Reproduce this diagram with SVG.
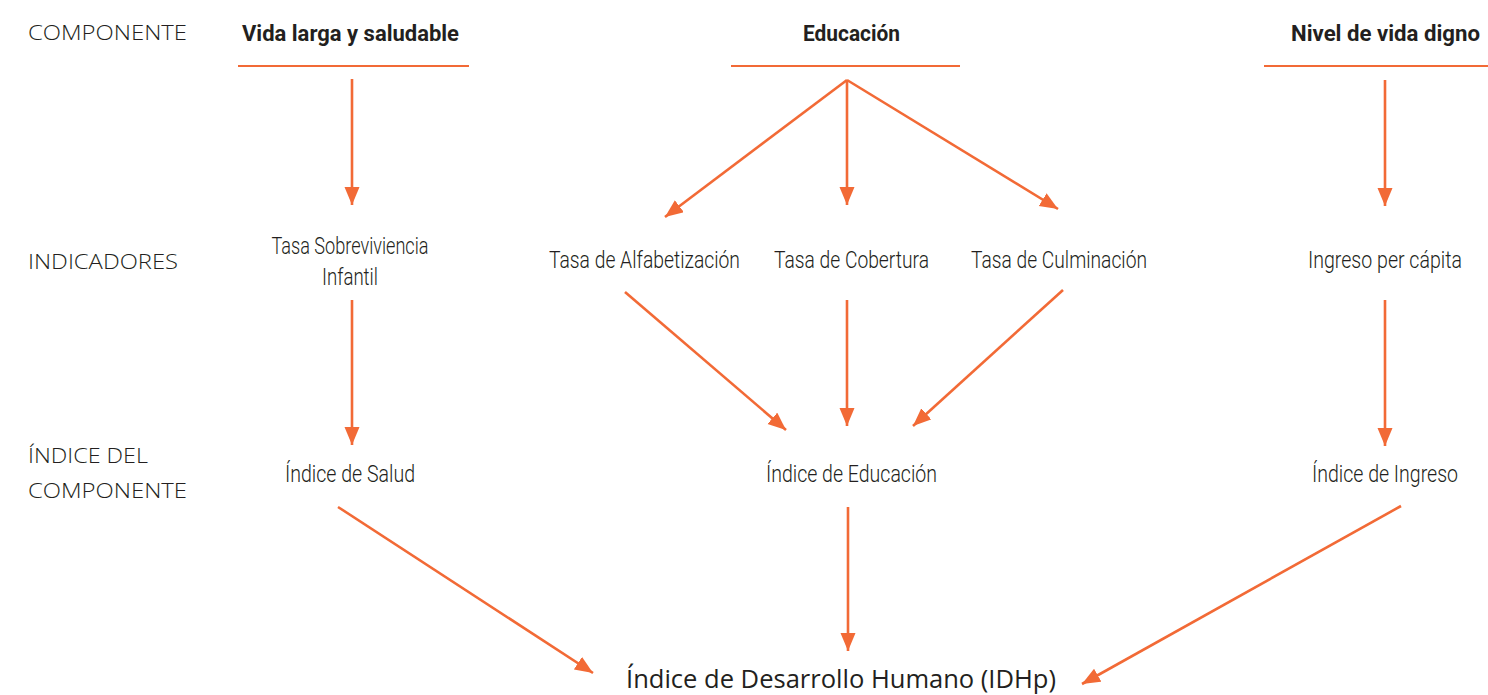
<svg xmlns="http://www.w3.org/2000/svg" width="1488" height="695" viewBox="0 0 1488 695">
<style>
.lbl{font-family:Roboto,"Liberation Sans",sans-serif;font-weight:300;font-size:23px;fill:#231f20;text-anchor:middle}
.bold{font-family:Roboto,"Liberation Sans",sans-serif;font-weight:700;font-size:22px;fill:#231f20;text-anchor:middle}
.side{font-family:"Open Sans","Liberation Sans",sans-serif;font-weight:300;font-size:21px;fill:#231f20}
.main{font-family:"Open Sans","Liberation Sans",sans-serif;font-weight:400;font-size:25px;fill:#231f20;text-anchor:middle}
.rule{stroke:#f26a36;stroke-width:2;fill:none}
.arr{stroke:#f26a36;stroke-width:2.6;fill:none;marker-end:url(#ah)}
</style>
<defs>
<marker id="ah" markerUnits="userSpaceOnUse" markerWidth="20" markerHeight="16" refX="18" refY="7.5" orient="auto">
<path d="M0,0 L18,7.5 L0,15 Z" fill="#f26a36"/>
</marker>
</defs>
<rect width="1488" height="695" fill="#fff"/>
<g id="row-labels">
<text class="side" x="28" y="40" textLength="159" lengthAdjust="spacingAndGlyphs">COMPONENTE</text>
<text class="side" x="28" y="269" textLength="150" lengthAdjust="spacingAndGlyphs">INDICADORES</text>
<text class="side" x="28" y="463" textLength="120" lengthAdjust="spacingAndGlyphs">ÍNDICE DEL</text>
<text class="side" x="28" y="498" textLength="159" lengthAdjust="spacingAndGlyphs">COMPONENTE</text>
</g>
<g id="comp-vida">
<text class="bold" x="350.5" y="41" textLength="217" lengthAdjust="spacingAndGlyphs">Vida larga y saludable</text>
<line class="rule" x1="238" y1="66" x2="469" y2="66"/>
</g>
<g id="comp-educacion">
<text class="bold" x="851.5" y="41" textLength="97" lengthAdjust="spacingAndGlyphs">Educación</text>
<line class="rule" x1="731" y1="66" x2="960" y2="66"/>
</g>
<g id="comp-nivel">
<text class="bold" x="1385.5" y="41" textLength="189" lengthAdjust="spacingAndGlyphs">Nivel de vida digno</text>
<line class="rule" x1="1264" y1="66" x2="1488" y2="66"/>
</g>
<g id="ind-sobrevivencia">
<text class="lbl" x="350" y="254" textLength="157" lengthAdjust="spacingAndGlyphs">Tasa Sobreviviencia</text>
<text class="lbl" x="350" y="285" textLength="56" lengthAdjust="spacingAndGlyphs">Infantil</text>
</g>
<g id="ind-alfabetizacion"><text class="lbl" x="644.5" y="268" textLength="191" lengthAdjust="spacingAndGlyphs">Tasa de Alfabetización</text></g>
<g id="ind-cobertura"><text class="lbl" x="851.5" y="268" textLength="155" lengthAdjust="spacingAndGlyphs">Tasa de Cobertura</text></g>
<g id="ind-culminacion"><text class="lbl" x="1059" y="268" textLength="176" lengthAdjust="spacingAndGlyphs">Tasa de Culminación</text></g>
<g id="ind-ingreso"><text class="lbl" x="1385" y="268" textLength="154" lengthAdjust="spacingAndGlyphs">Ingreso per cápita</text></g>
<g id="idx-salud"><text class="lbl" x="350" y="482" textLength="130" lengthAdjust="spacingAndGlyphs">Índice de Salud</text></g>
<g id="idx-educacion"><text class="lbl" x="851.5" y="482" textLength="171" lengthAdjust="spacingAndGlyphs">Índice de Educación</text></g>
<g id="idx-ingreso"><text class="lbl" x="1385" y="482" textLength="146" lengthAdjust="spacingAndGlyphs">Índice de Ingreso</text></g>
<g id="idhp"><text class="main" x="841" y="688" textLength="430" lengthAdjust="spacingAndGlyphs">Índice de Desarrollo Humano (IDHp)</text></g>
<g id="connectors">
<line class="arr" x1="352" y1="79" x2="352" y2="205"/>
<line class="arr" x1="847" y1="80" x2="665" y2="217"/>
<line class="arr" x1="847" y1="80" x2="847" y2="205"/>
<line class="arr" x1="847" y1="80" x2="1058" y2="209"/>
<line class="arr" x1="1385" y1="80" x2="1385" y2="206"/>
<line class="arr" x1="352" y1="300" x2="352" y2="445"/>
<line class="arr" x1="625" y1="292" x2="786" y2="430"/>
<line class="arr" x1="847" y1="300" x2="847" y2="426"/>
<line class="arr" x1="1063" y1="290" x2="913" y2="426"/>
<line class="arr" x1="1385" y1="300" x2="1385" y2="446"/>
<line class="arr" x1="338" y1="507" x2="593" y2="673"/>
<line class="arr" x1="848" y1="507" x2="848" y2="651"/>
<line class="arr" x1="1401" y1="506" x2="1082" y2="684"/>
</g>
</svg>
